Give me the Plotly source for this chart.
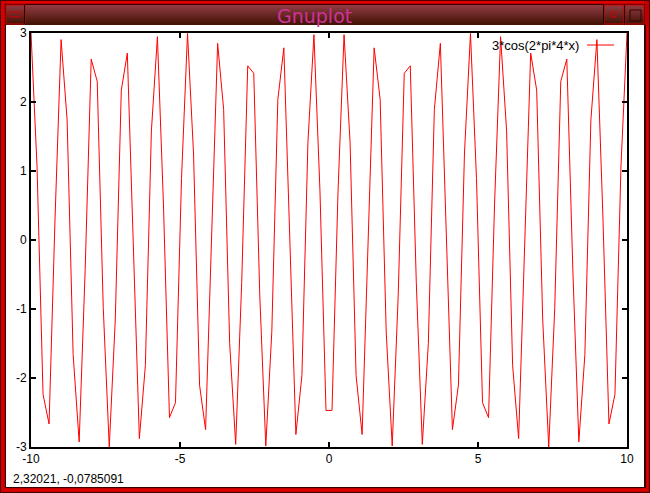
import numpy as np
import plotly.graph_objects as go

# ---- data (100 samples of 3*cos(2*pi*4*x) over [-10, 10]) ----
x_min, x_max, n_samples = -10, 10, 100
y_values = [
    3.000, 1.071, -2.236, -2.666, 0.333, 2.904, 1.740, -1.662, -2.926, -0.427,
    2.622, 2.298, -0.981, -2.999, -1.159, 2.171, 2.709, -0.238, -2.878, -1.817,
    1.582, 2.946, 0.521, -2.574, -2.358, 0.891, 2.994, 1.246, -2.104, -2.748,
    0.143, 2.850, 1.892, -1.500, -2.962, -0.614, 2.524, 2.416, -0.799, -2.986,
    -1.332, 2.036, 2.785, -0.048, -2.819, -1.965, 1.417, 2.976, 0.707, -2.470,
    -2.470, 0.707, 2.976, 1.417, -1.965, -2.819, -0.048, 2.785, 2.036, -1.332,
    -2.986, -0.799, 2.416, 2.524, -0.614, -2.962, -1.500, 1.892, 2.850, 0.143,
    -2.748, -2.104, 1.246, 2.994, 0.891, -2.358, -2.574, 0.521, 2.946, 1.582,
    -1.817, -2.878, -0.238, 2.709, 2.171, -1.159, -2.999, -0.981, 2.298, 2.622,
    -0.427, -2.926, -1.662, 1.740, 2.904, 0.333, -2.666, -2.236, 1.071, 3.000,
]
x_values = np.linspace(x_min, x_max, n_samples)
series_name = "3*cos(2*pi*4*x)"
x_ticks = [-10, -5, 0, 5, 10]
y_ticks = [-3, -2, -1, 0, 1, 2, 3]
window_title = "Gnuplot"
status_text = "2,32021, -0,0785091"

# ---- geometry helpers (pixel -> paper) ----
W, H = 650, 493
L, R, T, B = 31, 627, 33, 447

def px(x):
    return (x - L) / (R - L)

def py(y):
    return (B - y) / (B - T)

shapes = []

def rect(x0, y0, x1, y1, fill=None, line=None, lw=0, layer="above"):
    shapes.append(dict(type="rect", xref="paper", yref="paper",
                       x0=px(x0), x1=px(x1), y0=py(y1), y1=py(y0),
                       fillcolor=fill if fill else "rgba(0,0,0,0)",
                       line=dict(color=line if line else "rgba(0,0,0,0)", width=lw),
                       layer=layer))

def hline(x0, x1, y, color, lw=1):
    shapes.append(dict(type="line", xref="paper", yref="paper",
                       x0=px(x0), x1=px(x1), y0=py(y), y1=py(y),
                       line=dict(color=color, width=lw), layer="above"))

def vline(x, y0, y1, color, lw=1):
    shapes.append(dict(type="line", xref="paper", yref="paper",
                       x0=px(x), x1=px(x), y0=py(y0), y1=py(y1),
                       line=dict(color=color, width=lw), layer="above"))

# window frame
rect(0, 0, W, H, fill="#c00000", layer="below")
rect(6, 25, 644, 487, fill="#ffffff", layer="below")
rect(0.5, 0.5, W - 0.5, H - 0.5, line="#4a0000", lw=1, layer="below")
rect(5.5, 4.5, 644.5, 487.5, line="#3a0000", lw=1, layer="below")

# title bar gradient
top_c = np.array([0x90, 0x3c, 0x42])
bot_c = np.array([0x42, 0x12, 0x04])
n_steps = 20
for i in range(n_steps):
    t = i / (n_steps - 1)
    c = (top_c * (1 - t) + bot_c * t).astype(int)
    rect(6, 5 + i, 644, 6 + i, fill="rgb(%d,%d,%d)" % tuple(c))
# title bar buttons
rect(6, 5, 25, 24, line="#d00000", lw=1)
vline(24.5, 5, 24, "#2a0000", 1)
rect(10, 12, 20, 17, line="#d00000", lw=1)
rect(604, 5, 624, 24, line="#d00000", lw=1)
rect(611, 12, 616, 17, line="#d00000", lw=1)
rect(625, 5, 644, 24, line="#d00000", lw=1)
rect(630, 10, 641, 21, line="#3a0000", lw=1)
vline(603.5, 5, 24, "#2a0000", 1)
vline(624.5, 5, 24, "#2a0000", 1)
# bright lines on frame
hline(6, 644, 2, "#e00000", 2)
vline(2.5, 2, 490, "#e00000", 2)
vline(647.5, 26, 490, "#e00000", 2)
hline(2, 648, 490, "#e00000", 2)
vline(645.5, 25, 488, "#3a0000", 1)

# legend key (text left of sample line, gnuplot style)
hline(587, 614, 45, "#ff0000", 1)

fig = go.Figure()
fig.add_trace(go.Scatter(x=x_values, y=y_values, mode="lines", name=series_name,
                         line=dict(color="#ff0000", width=1), showlegend=False))

font_main = dict(family="Liberation Sans, Arial, sans-serif", size=12, color="#000000")

annotations = [
    dict(text=window_title, xref="paper", yref="paper", x=px(314), y=py(16),
         xanchor="center", yanchor="middle", showarrow=False,
         font=dict(family="DejaVu Sans, sans-serif", size=19, color="#cc3399")),
    dict(text=series_name, xref="paper", yref="paper", x=px(581), y=py(45),
         xanchor="right", yanchor="middle", showarrow=False,
         font=dict(family="Liberation Sans, Arial, sans-serif", size=13, color="#000000")),
    dict(text=status_text, xref="paper", yref="paper", x=px(11), y=py(479),
         xanchor="left", yanchor="middle", showarrow=False, font=font_main),
]

axis_common = dict(showline=True, linecolor="#000000", linewidth=2, mirror="ticks",
                   ticks="inside", ticklen=5, tickwidth=2, tickcolor="#000000",
                   showgrid=False, zeroline=False, tickfont=font_main)

fig.update_layout(
    width=W, height=H,
    margin=dict(l=L, r=W - R, t=T, b=H - B, pad=0),
    paper_bgcolor="#c00000", plot_bgcolor="#ffffff",
    showlegend=False,
    shapes=shapes,
    annotations=annotations,
    xaxis=dict(range=[x_min, x_max], tickvals=x_ticks,
               ticktext=[str(v) for v in x_ticks], **axis_common),
    yaxis=dict(range=[-3, 3], tickvals=y_ticks,
               ticktext=[str(v) for v in y_ticks], **axis_common),
)

fig.write_html("out.html",
               config={"displayModeBar": False},
               post_script="document.body.style.margin='0';document.body.style.overflow='hidden';")
